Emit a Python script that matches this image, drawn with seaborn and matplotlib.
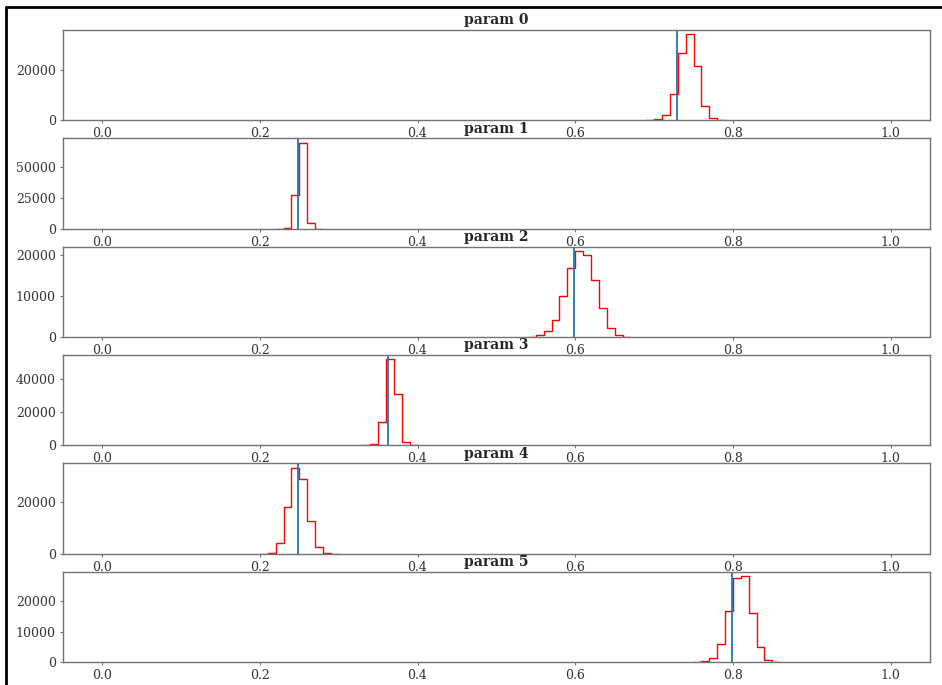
import numpy as np
import pandas as pd
import matplotlib
matplotlib.use("Agg")
import matplotlib.pyplot as plt
import seaborn as sns

# posterior samples binned at 0.01, counts
names = ["param 0", "param 1", "param 2", "param 3", "param 4", "param 5"]
true_vals = [0.729, 0.249, 0.599, 0.363, 0.249, 0.799]

first_bin = [0.70, 0.23, 0.55, 0.34, 0.21, 0.76]
counts_0 = [530, 2270, 10500, 26900, 34500, 21600, 5900, 930]
counts_1 = [550, 27700, 70300, 4400]
counts_2 = [400, 1400, 4200, 10100, 16900, 21100, 20200, 14000, 7000, 2300, 400]
counts_3 = [600, 14300, 51700, 30900, 2200]
counts_4 = [400, 4000, 17900, 33100, 28600, 12600, 2600, 400]
counts_5 = [200, 1200, 5900, 16700, 27600, 28400, 16300, 4800, 550]
all_counts = [counts_0, counts_1, counts_2, counts_3, counts_4, counts_5]

yticks = [[0, 20000], [0, 25000, 50000], [0, 10000, 20000],
          [0, 20000, 40000], [0, 20000], [0, 10000, 20000]]
xticks = [0.0, 0.2, 0.4, 0.6, 0.8, 1.0]

sns.set_style("white")
plt.rcParams["font.family"] = ["DejaVu Serif"]
plt.rcParams["font.size"] = 9

fig, axes = plt.subplots(6, 1, figsize=(9.42, 6.85), dpi=100)
fig.subplots_adjust(left=0.0666, right=0.9873, top=0.9562, bottom=0.0336, hspace=0.2)

for ax, name, tv, start, counts, yt in zip(axes, names, true_vals, first_bin, all_counts, yticks):
    df = pd.DataFrame({"x": start + 0.005 + 0.01 * np.arange(len(counts)),
                       "w": counts})
    # one empty bin on each side so the step drops back to zero
    lo = start - 0.01
    hi = start + 0.01 * (len(counts) + 1)
    sns.histplot(data=df, x="x", weights="w", binwidth=0.01, binrange=(lo, hi),
                 element="step", fill=False, color="red", linewidth=1, ax=ax)
    ax.axvline(tv, color="#1f77b4", linewidth=1.3)
    ax.set_xlim(-0.05, 1.05)
    ax.set_ylim(bottom=0)
    ax.set_xticks(xticks)
    ax.set_yticks(yt)
    ax.set_xlabel("")
    ax.set_ylabel("")
    ax.set_title(name, fontsize=10, fontweight="bold", pad=4)
    for s in ax.spines.values():
        s.set_color("0.45")
        s.set_linewidth(1)
    ax.tick_params(axis="both", colors="0.45", labelcolor="0.2", labelsize=9,
                   length=2.5, width=0.8, pad=2.5, bottom=True, left=True)

# screenshot frame
fig.add_artist(plt.Line2D([0.006, 0.006], [0, 0.9905], transform=fig.transFigure,
                          color="black", linewidth=2))
fig.add_artist(plt.Line2D([0.006, 1.0], [0.9905, 0.9905], transform=fig.transFigure,
                          color="black", linewidth=2))

fig.savefig("out.png", dpi=100)
